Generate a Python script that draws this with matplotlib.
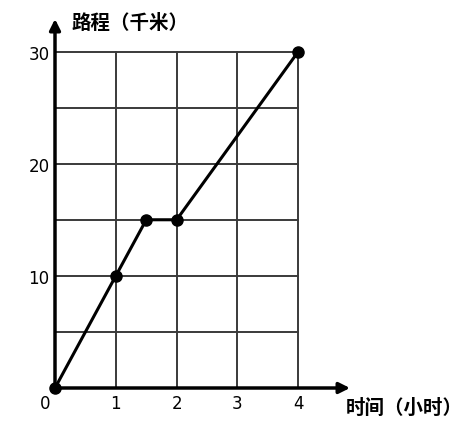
import matplotlib.pyplot as plt

plt.rcParams['font.family'] = ['Noto Sans CJK SC', 'DejaVu Sans']

# data
hours = [0, 1, 1.5, 2, 4]
distance = [0, 10, 15, 15, 30]
x_ticks = [1, 2, 3, 4]
y_ticks = [10, 20, 30]
grid_x = [1, 2, 3, 4]
grid_y = [5, 10, 15, 20, 25, 30]

fig = plt.figure(figsize=(4.72, 4.27), dpi=100)
ax = fig.add_axes([55 / 472, 38 / 427, 295 / 472, 369 / 427])
ax.set_xlim(0, 4.85)
ax.set_ylim(0, 32.9)
for s in ax.spines.values():
    s.set_visible(False)

# grid
for gx in grid_x:
    ax.plot([gx, gx], [0, 30], color='#3a3a3a', lw=1.4, zorder=1)
for gy in grid_y:
    ax.plot([0, 4], [gy, gy], color='#3a3a3a', lw=1.4, zorder=1)

# axes with arrows
arrow = dict(arrowstyle='-|>', color='black', lw=2.5, mutation_scale=16, shrinkA=0, shrinkB=0)
ax.annotate('', xy=(4.85, 0), xytext=(0, 0), arrowprops=arrow, annotation_clip=False)
ax.annotate('', xy=(0, 32.9), xytext=(0, 0), arrowprops=arrow, annotation_clip=False)

# the line
ax.plot(hours, distance, color='black', lw=2.2, marker='o', markersize=8, zorder=3, clip_on=False)

ax.set_xticks(x_ticks)
ax.set_yticks(y_ticks)
ax.set_xticklabels([str(t) for t in x_ticks], family='DejaVu Sans', fontsize=12)
ax.set_yticklabels([str(t) for t in y_ticks], family='DejaVu Sans', fontsize=12)
ax.tick_params(length=0, pad=4)
ax.text(-0.17, -0.5, '0', ha='center', va='top', fontsize=12, family='DejaVu Sans')

ax.text(0.27, 32.6, '路程（千米）', ha='left', va='center', fontsize=14, weight='bold')
ax.text(4.78, -1.75, '时间（小时）', ha='left', va='center', fontsize=14, weight='bold',
        clip_on=False)

fig.savefig('out.png', dpi=100)
